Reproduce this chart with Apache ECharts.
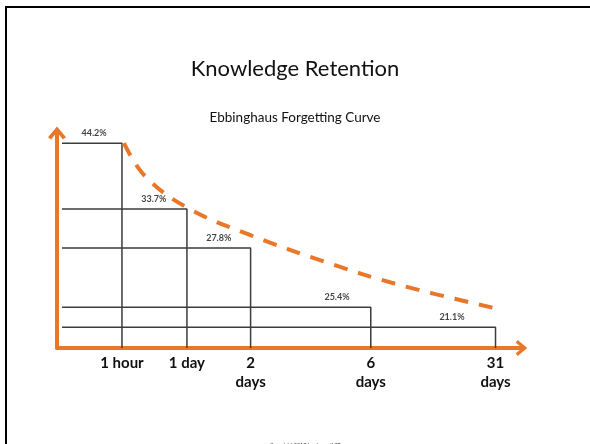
<!DOCTYPE html>
<html>
<head>
<meta charset="utf-8">
<script src="https://cdn.jsdelivr.net/npm/echarts@6/dist/echarts.min.js"></script>
<style>html,body{margin:0;padding:0;background:#fff}#c{width:590px;height:444px}</style>
</head>
<body>
<div id="c"></div>
<script>
// Time points (x-axis category labels) and their schematic positions on the drawn axis
const timeLabels = ['1 hour', '1 day', '2\ndays', '6\ndays', '31\ndays'];
const tickPositions = [1, 2, 2.98, 4.83, 6.75];
// Retention percentages printed above each step
const retention = [44.2, 33.7, 27.8, 25.4, 21.1];
// Drawn heights of each step (schematic)
const stepHeights = [44.2, 30.0, 21.6, 8.8, 4.5];
// Horizontal positions of the percentage labels
const labelPositions = [0.57, 1.49, 2.49, 4.31, 6.08];
// Dashed forgetting curve points
const curveX = [1.031, 1.354, 2.015, 2.969, 4.123, 5.277, 6.862];
const curveY = [44.2, 37.1, 30.2, 24.4, 18.6, 13.6, 8.2];
const stepStart = 0.077;

const ORANGE = '#E8772A';
const chev = 'path://M0,12 L10,0 L20,12 L16.5,14.5 L10,6 L3.5,14.5 Z';

const series = [];
stepHeights.forEach((h, i) => {
  series.push({
    type: 'line', symbol: 'none', silent: true, z: 2,
    lineStyle: { color: '#3c3c3c', width: 1.5 },
    data: [[stepStart, h], [tickPositions[i], h], [tickPositions[i], 0]]
  });
});
series.push({
  type: 'line', symbol: 'none', smooth: 0.4, z: 3,
  lineStyle: { color: ORANGE, width: 4, type: [14, 11] },
  data: curveX.map((x, i) => [x, curveY[i]])
});
series.push({
  type: 'scatter', symbolSize: 1, itemStyle: { color: 'rgba(0,0,0,0)' }, z: 4,
  label: {
    show: true, position: 'top', distance: 5,
    fontFamily: 'Lato', fontWeight: 'bold', fontSize: 9, color: '#111',
    formatter: p => retention[p.dataIndex].toFixed(1) + '%'
  },
  data: labelPositions.map((x, i) => [x, stepHeights[i]])
});

const chart = echarts.init(document.getElementById('c'), null, { renderer: 'canvas' });
chart.setOption({
  animation: false,
  backgroundColor: '#fff',
  title: [
    { text: 'Knowledge Retention', left: 'center', top: 53,
      textStyle: { fontFamily: 'Lato', fontWeight: 'normal', fontSize: 22, color: '#111' } },
    { text: 'Ebbinghaus Forgetting Curve', left: 'center', top: 106,
      textStyle: { fontFamily: 'Lato', fontWeight: 'normal', fontSize: 13.5, color: '#111' } },
    { text: 'Copyright 2013 ImplementHIT', left: 300, top: 437, textAlign: 'center',
      textStyle: { fontFamily: 'Lato', fontStyle: 'italic', fontWeight: 'normal', fontSize: 5.5, color: '#222' } }
  ],
  graphic: [{
    type: 'polyline', silent: true,
    shape: { points: [[6, 444], [6, 7], [590, 7]] },
    style: { stroke: '#000', lineWidth: 2, fill: null }
  }],
  grid: { left: 57, right: 68.5, top: 133, bottom: 96 },
  xAxis: {
    type: 'value', min: 0, max: 7.15,
    splitLine: { show: false },
    axisTick: { show: false },
    axisLine: { show: true, onZero: false, lineStyle: { color: ORANGE, width: 4 },
      symbol: ['none', chev], symbolSize: [16, 17] },
    axisLabel: {
      customValues: tickPositions,
      margin: 6, fontFamily: 'Lato', fontWeight: 'bold', fontSize: 15, color: '#111', lineHeight: 19,
      formatter: v => { const k = tickPositions.findIndex(p => Math.abs(p - v) < 1e-6); return k >= 0 ? timeLabels[k] : ''; }
    }
  },
  yAxis: {
    type: 'value', min: 0, max: 46.4,
    splitLine: { show: false },
    axisTick: { show: false },
    axisLabel: { show: false },
    axisLine: { show: true, onZero: false, lineStyle: { color: ORANGE, width: 4 },
      symbol: ['none', chev], symbolSize: [18, 17] }
  },
  series: series
});
</script>
</body>
</html>
